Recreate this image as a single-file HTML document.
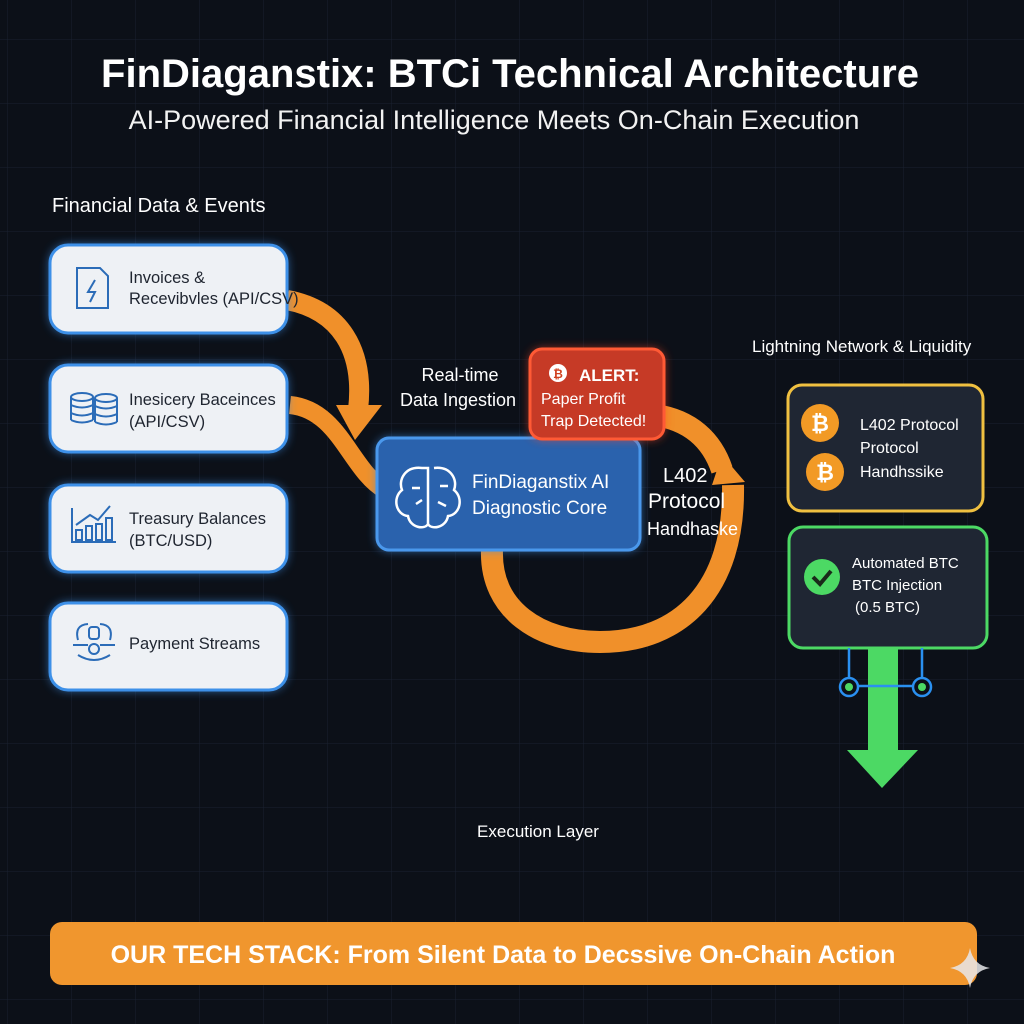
<!DOCTYPE html>
<html><head><meta charset="utf-8"><style>
html,body{margin:0;padding:0;background:#0c1018;}
svg{display:block}
text{font-family:"Liberation Sans","DejaVu Sans",sans-serif;}
</style></head><body>
<svg width="1024" height="1024" viewBox="0 0 1024 1024" xmlns="http://www.w3.org/2000/svg">
<defs>
<pattern id="g" width="64" height="64" patternUnits="userSpaceOnUse" x="8" y="40">
<path d="M64 0V64M0 64H64" stroke="#1a2130" stroke-width="1" fill="none"/>
</pattern>
<filter id="glow" x="-20%" y="-20%" width="140%" height="140%"><feGaussianBlur stdDeviation="5"/></filter>
</defs>
<rect width="1024" height="1024" fill="#0c1018"/>
<rect width="1024" height="1024" fill="url(#g)"/>

<text x="510" y="87" text-anchor="middle" fill="#fff" font-size="40" font-weight="bold">FinDiaganstix: BTCi Technical Architecture</text>
<text x="494" y="129" text-anchor="middle" fill="#f2f2f2" font-size="27">AI-Powered Financial Intelligence Meets On-Chain Execution</text>
<text x="52" y="212" fill="#fff" font-size="20">Financial Data &amp; Events</text>

<!-- orange connectors -->
<path d="M287 300 C340 310 365 350 358 410" stroke="#f0902a" stroke-width="20" fill="none"/>
<path d="M336 405 L382 405 L355 440 Z" fill="#f0902a"/>
<path d="M290 405 C340 410 350 470 385 490" stroke="#f0902a" stroke-width="18" fill="none"/>
<path d="M492 550 C490 610 540 642 600 642 C680 642 735 590 733 485" stroke="#f0902a" stroke-width="22" fill="none"/>
<path d="M655 415 C690 420 712 440 722 470" stroke="#f0902a" stroke-width="22" fill="none"/>
<path d="M712 485 L745 482 L722 455 Z" fill="#f0902a"/>

<!-- left boxes -->
<g>
<rect x="50" y="245" width="237" height="88" rx="18" fill="#3a8ee6" filter="url(#glow)" opacity="0.8"/>
<rect x="50" y="245" width="237" height="88" rx="18" fill="#eef1f5" stroke="#3d90e8" stroke-width="3"/>
<rect x="50" y="365" width="237" height="87" rx="18" fill="#3a8ee6" filter="url(#glow)" opacity="0.8"/>
<rect x="50" y="365" width="237" height="87" rx="18" fill="#eef1f5" stroke="#3d90e8" stroke-width="3"/>
<rect x="50" y="485" width="237" height="87" rx="18" fill="#3a8ee6" filter="url(#glow)" opacity="0.8"/>
<rect x="50" y="485" width="237" height="87" rx="18" fill="#eef1f5" stroke="#3d90e8" stroke-width="3"/>
<rect x="50" y="603" width="237" height="87" rx="18" fill="#3a8ee6" filter="url(#glow)" opacity="0.8"/>
<rect x="50" y="603" width="237" height="87" rx="18" fill="#eef1f5" stroke="#3d90e8" stroke-width="3"/>
</g>
<g fill="none" stroke="#2b6cb8" stroke-width="2">
<path d="M77 268 H100 L108 276 V308 H77 Z"/><path d="M95 280 L88 292 H95 L90 302"/>
<ellipse cx="82" cy="397" rx="11" ry="4"/><path d="M71 397 V420 M93 397 V420 M71 405 Q82 410 93 405 M71 413 Q82 418 93 413 M71 420 Q82 425 93 420"/>
<ellipse cx="106" cy="398" rx="11" ry="4"/><path d="M95 398 V422 M117 398 V422 M95 406 Q106 411 117 406 M95 414 Q106 419 117 414 M95 422 Q106 427 117 422"/>
<path d="M72 508 V542 H116"/><path d="M76 525 L90 515 L98 520 L110 506"/><rect x="76" y="530" width="6" height="10"/><rect x="86" y="526" width="6" height="14"/><rect x="96" y="524" width="6" height="16"/><rect x="106" y="518" width="6" height="22"/>
<circle cx="94" cy="649" r="5"/><rect x="89" y="627" width="10" height="12" rx="3"/><path d="M78 640 Q74 625 88 624 M110 640 Q114 625 100 624 M78 655 Q94 665 110 655 M73 645 H88 M100 645 H115"/>
</g>
<g fill="#1f2530" font-size="16.5">
<text x="129" y="283">Invoices &amp;</text><text x="129" y="304">Recevibvles (API/CSV)</text>
<text x="129" y="405">Inesicery Baceinces</text><text x="129" y="427">(API/CSV)</text>
<text x="129" y="524">Treasury Balances</text><text x="129" y="546">(BTC/USD)</text>
<text x="129" y="649">Payment Streams</text>
</g>

<text x="460" y="381" text-anchor="middle" fill="#fff" font-size="18">Real-time</text>
<text x="458" y="406" text-anchor="middle" fill="#fff" font-size="18">Data Ingestion</text>

<!-- core -->
<rect x="377" y="438" width="263" height="112" rx="12" fill="#3a8ee6" filter="url(#glow)" opacity="0.8"/>
<rect x="377" y="438" width="263" height="112" rx="12" fill="#2a62ad" stroke="#4a98ec" stroke-width="3"/>
<g fill="none" stroke="#fff" stroke-width="2.5">
<path d="M422 468 C405 466 398 480 402 490 C392 498 396 515 408 516 C410 528 425 530 428 524 V468 Z"/>
<path d="M434 468 C451 466 458 480 454 490 C464 498 460 515 448 516 C446 528 431 530 428 524"/>
<path d="M412 488 H420 M416 504 L422 500 M440 486 H448 M438 502 L446 506"/>
</g>
<text x="472" y="488" fill="#fff" font-size="19">FinDiaganstix AI</text>
<text x="472" y="514" fill="#fff" font-size="19">Diagnostic Core</text>

<!-- alert -->
<rect x="530" y="349" width="134" height="90" rx="12" fill="#ff4422" filter="url(#glow)" opacity="0.7"/>
<rect x="530" y="349" width="134" height="90" rx="12" fill="#c63a26" stroke="#ff5a35" stroke-width="3"/>
<circle cx="558" cy="373" r="9" fill="#fff"/><text x="558" y="378" text-anchor="middle" fill="#d0401e" font-size="12" font-weight="bold">₿</text>
<text x="579" y="381" fill="#fff" font-size="17" font-weight="bold">ALERT:</text>
<text x="541" y="404" fill="#fff" font-size="16">Paper Profit</text>
<text x="541" y="426" fill="#fff" font-size="16">Trap Detected!</text>

<text x="663" y="482" fill="#fff" font-size="20">L402</text>
<text x="648" y="508" fill="#fff" font-size="21">Protocol</text>
<text x="647" y="535" fill="#fff" font-size="18">Handhaske</text>

<!-- right -->
<text x="752" y="352" fill="#fff" font-size="17">Lightning Network &amp; Liquidity</text>
<rect x="788" y="385" width="195" height="126" rx="14" fill="#1f2633" stroke="#f0c040" stroke-width="3"/>
<circle cx="820" cy="423" r="19" fill="#f29a25"/><text x="820" y="431" text-anchor="middle" fill="#fff" font-size="22" font-weight="bold">₿</text>
<circle cx="825" cy="472" r="19" fill="#f29a25"/><text x="825" y="480" text-anchor="middle" fill="#fff" font-size="22" font-weight="bold">₿</text>
<text x="860" y="430" fill="#fff" font-size="16">L402 Protocol</text>
<text x="860" y="453" fill="#fff" font-size="16">Protocol</text>
<text x="860" y="477" fill="#fff" font-size="16">Handhssike</text>

<rect x="789" y="527" width="198" height="121" rx="14" fill="#1f2633" stroke="#4cd964" stroke-width="3"/>
<circle cx="822" cy="577" r="18" fill="#4cd964"/><path d="M813 577 L820 584 L831 571" stroke="#1a2a1a" stroke-width="4" fill="none"/>
<text x="852" y="568" fill="#fff" font-size="15">Automated BTC</text>
<text x="852" y="590" fill="#fff" font-size="15">BTC Injection</text>
<text x="855" y="612" fill="#fff" font-size="15">(0.5 BTC)</text>

<rect x="868" y="648" width="30" height="104" fill="#4cd964"/>
<path d="M847 750 H918 L882 788 Z" fill="#4cd964"/>
<g stroke="#2a90f0" stroke-width="2.5" fill="none">
<path d="M849 648 V686 M922 648 V686 M849 686 H922"/>
<circle cx="849" cy="687" r="9" fill="#0c1018"/><circle cx="922" cy="687" r="9" fill="#0c1018"/>
</g>
<circle cx="849" cy="687" r="4" fill="#4cd964"/><circle cx="922" cy="687" r="4" fill="#4cd964"/>

<text x="538" y="837" text-anchor="middle" fill="#fff" font-size="17">Execution Layer</text>

<rect x="50" y="922" width="927" height="63" rx="12" fill="#f0962e"/>
<text x="503" y="963" text-anchor="middle" fill="#fff" font-size="25" font-weight="bold">OUR TECH STACK: From Silent Data to Decssive On-Chain Action</text>
<path d="M970 948 Q973 965 990 968 Q973 971 970 988 Q967 971 950 968 Q967 965 970 948 Z" fill="#e8e8ea" opacity="0.85"/>
</svg>
</body></html>
